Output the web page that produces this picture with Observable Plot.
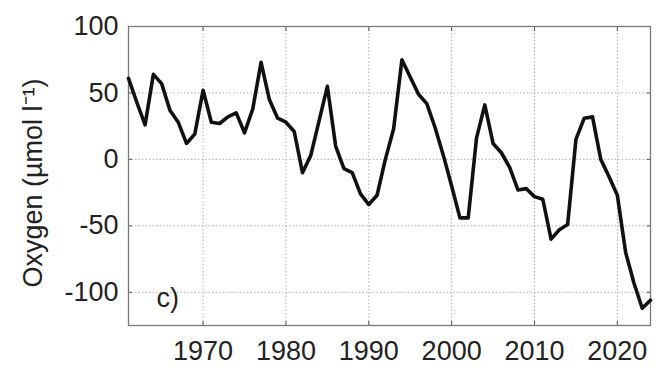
<!DOCTYPE html>
<html>
<head>
<meta charset="utf-8">
<script src="https://cdn.jsdelivr.net/npm/d3@7"></script>
<script src="https://cdn.jsdelivr.net/npm/@observablehq/plot@0.6"></script>
<style>
  html, body { margin: 0; padding: 0; background: #ffffff; }
  svg { display: block; }
</style>
</head>
<body>
<script>
const years = [
  1961, 1962, 1963, 1964, 1965, 1966, 1967, 1968, 1969, 1970,
  1971, 1972, 1973, 1974, 1975, 1976, 1977, 1978, 1979, 1980,
  1981, 1982, 1983, 1984, 1985, 1986, 1987, 1988, 1989, 1990,
  1991, 1992, 1993, 1994, 1995, 1996, 1997, 1998, 1999, 2000,
  2001, 2002, 2003, 2004, 2005, 2006, 2007, 2008, 2009, 2010,
  2011, 2012, 2013, 2014, 2015, 2016, 2017, 2018, 2019, 2020,
  2021, 2022, 2023, 2024
];
const oxygen = [
  61, 43, 26, 64, 57, 37, 28, 12, 19, 52,
  28, 27, 32, 35, 20, 38, 73, 45, 31, 28,
  21, -10, 3, 29, 55, 10, -7, -10, -26, -34,
  -27, 0, 23, 75, 62, 49, 42, 24, 3, -20,
  -44, -44, 16, 41, 12, 5, -6, -23, -22, -28,
  -30, -60, -53, -49, 15, 31, 32, 0, -13, -27,
  -70, -93, -112, -106
];
const xTicks = [1970, 1980, 1990, 2000, 2010, 2020];
const yTicks = [-100, -50, 0, 50, 100];
const xDomain = [1961, 2024];
const yDomain = [-125, 100];
const yLabel = "Oxygen (\u00B5mol l\u207B\u00B9)";
const panelLabel = "c)";

const data = years.map((year, i) => ({year, value: oxygen[i]}));

const gridStyle = {stroke: "#9a9a9a", strokeOpacity: 0.8, strokeDasharray: "1.5,2", strokeWidth: 1};
const tickStyle = {tickSize: -4, tickFormat: () => "", label: null, stroke: "#555"};

const chart = Plot.plot({
  width: 672,
  height: 381,
  marginLeft: 128,
  marginRight: 22,
  marginTop: 26,
  marginBottom: 56,
  style: {fontFamily: "'Liberation Sans', Arial, sans-serif", background: "#ffffff", color: "#222"},
  x: {domain: xDomain},
  y: {domain: yDomain},
  marks: [
    Plot.gridX(xTicks, gridStyle),
    Plot.gridY(yTicks, gridStyle),
    Plot.axisX(xTicks, {anchor: "bottom", tickSize: 0, tickPadding: 15, tickFormat: d => String(d), fontSize: 27, label: null}),
    Plot.axisX(xTicks, {anchor: "bottom", ...tickStyle}),
    Plot.axisX(xTicks, {anchor: "top", ...tickStyle}),
    Plot.axisY(yTicks, {anchor: "left", tickSize: 0, tickPadding: 10, tickFormat: d => String(d), fontSize: 27, label: null}),
    Plot.axisY(yTicks, {anchor: "left", ...tickStyle}),
    Plot.axisY(yTicks, {anchor: "right", ...tickStyle}),
    Plot.frame({stroke: "#777", strokeWidth: 1.3}),
    Plot.line(data, {x: "year", y: "value", stroke: "#111", strokeWidth: 3.6, strokeLinejoin: "round"}),
    Plot.text([panelLabel], {frameAnchor: "bottom-left", dx: 28, dy: -27, textAnchor: "start", lineAnchor: "middle", fontSize: 27, fill: "#222"}),
    Plot.text([yLabel], {frameAnchor: "left", rotate: -90, dx: -95, dy: 7, textAnchor: "middle", lineAnchor: "middle", fontSize: 27, fill: "#222"})
  ]
});
document.body.appendChild(chart);
</script>
</body>
</html>
